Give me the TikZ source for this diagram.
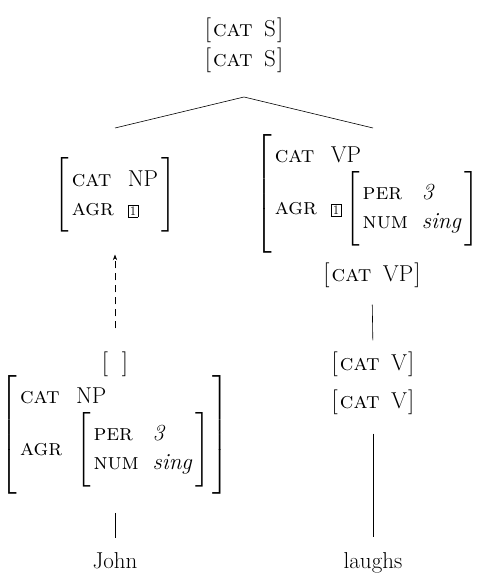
\documentclass[tikz,border=0pt]{standalone}
\usepackage{amsmath}
\usepackage{fontspec}
\usepackage{tikz}
\usetikzlibrary{arrows.meta}
\delimiterfactor=1000
\delimitershortfall=-5pt
\newcommand{\ft}[1]{\textsc{#1}}
\newcommand{\tagno}[1]{{\setlength{\fboxsep}{1.5pt}\setlength{\fboxrule}{0.6pt}\fbox{\fontsize{13}{14}\selectfont #1}}}
\newcommand{\avm}[1]{$\left[\begin{tabular}{@{\hspace{3pt}}l@{\hspace{0.6em}}l@{\hspace{3pt}}}#1\end{tabular}\right]$}
\newcommand{\avmi}[2]{$\left[\mbox{\hspace{2pt}\ft{#1}\hspace{0.5em}#2\hspace{1pt}}\right]$}
\begin{document}
\begin{tikzpicture}[x=1pt, y=-1pt, >=Stealth, font=\fontsize{23}{29}\selectfont,
  fs/.style={inner sep=0pt},
  branch/.style={line width=0.6pt},
  slash/.style={dash pattern=on 7pt off 5pt, line width=0.6pt, ->}]
  \useasboundingbox (0,0) rectangle (479,578);
  % mother
  \node[fs] (s1) at (244,30) {\avmi{cat}{S}};
  \node[fs] (s2) at (244,60) {\avmi{cat}{S}};
  \coordinate (s-foot) at (244,97);
  \coordinate (np-head) at (115,128);
  \coordinate (vp-head) at (373,128);
  \draw[branch] (np-head) -- (s-foot) -- (vp-head);
  % subject
  \node[fs] (np) at (115,195) {\avm{\ft{cat} & NP\\ \ft{agr} & \tagno{1}}};
  \node[fs] (gap) at (115,364) {$[\;\;]$};
  \node[fs] (np0) at (115,435) {\avm{\ft{cat} & NP\\ \ft{agr} & \avm{\ft{per} & \textit{3}\\ \ft{num} & \textit{sing}}}};
  \node[fs, anchor=base] (john) at (115,568) {John};
  \draw[slash, shorten <=23pt, shorten >=22pt] (gap.north) -- (np.south);
  \draw[branch, shorten <=18pt, shorten >=14pt] (np0.south) -- (john.north);
  % verb phrase
  \node[fs, anchor=west] (vp) at (255,194) {\avm{\ft{cat} & VP\\ \ft{agr} & \tagno{1}\,\avm{\ft{per} & \textit{3}\\ \ft{num} & \textit{sing}}}};
  \node[fs] (vp2) at (372,275) {\avmi{cat}{VP}};
  \node[fs] (v1) at (373,364) {\avmi{cat}{V}};
  \node[fs] (v2) at (373,402) {\avmi{cat}{V}};
  \node[fs, anchor=base] (laughs) at (373,568) {laughs};
  \draw[branch, shorten <=17pt, shorten >=11pt] (vp2.south) -- (v1.north);
  \draw[branch, shorten <=19pt, shorten >=15pt] (v2.south) -- (laughs.north);
\end{tikzpicture}
\end{document}
